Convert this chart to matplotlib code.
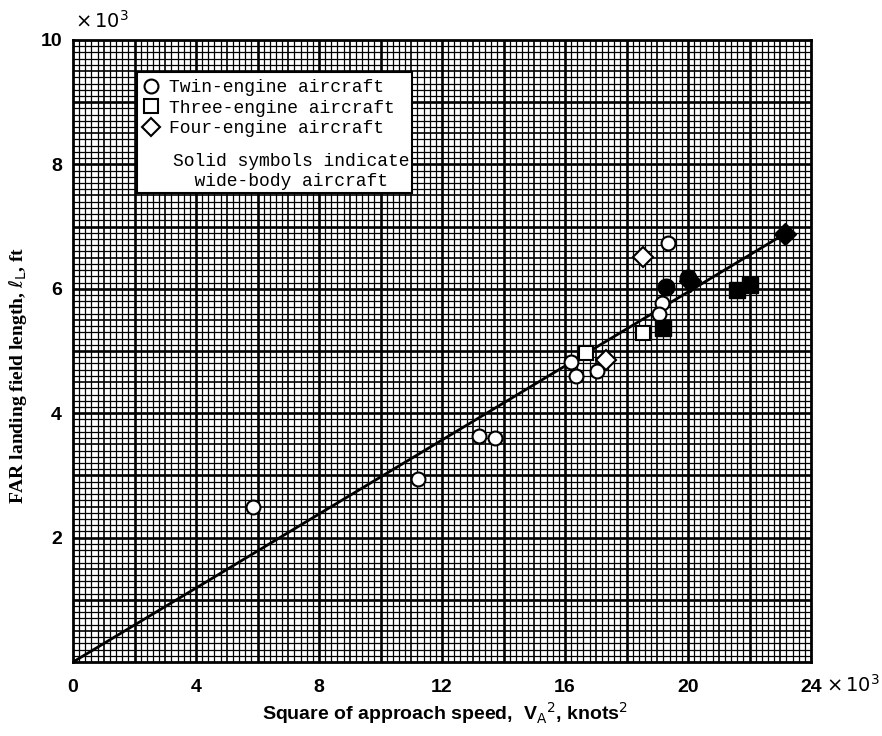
import matplotlib
matplotlib.use("Agg")
import matplotlib.pyplot as plt
from matplotlib.lines import Line2D
from matplotlib.patches import Rectangle
import numpy as np

# data (x in 10^3 knots^2, y in 10^3 ft)
twin_x = [5.85, 11.22, 13.2, 13.72, 16.2, 16.36, 17.04, 19.15, 19.05, 19.35]
twin_y = [2.49, 2.94, 3.63, 3.60, 4.82, 4.60, 4.68, 5.77, 5.60, 6.74]
twin_wide_x = [19.3, 20.0]
twin_wide_y = [6.03, 6.17]

three_x = [16.68, 18.55]
three_y = [4.97, 5.29]
three_wide_x = [19.2, 21.6, 22.0]
three_wide_y = [5.37, 5.98, 6.06]

four_x = [17.33, 18.54]
four_y = [4.86, 6.51]
four_wide_x = [20.05, 23.15]
four_wide_y = [6.12, 6.88]

fit_x = [0.0, 23.1]
fit_y = [0.0, 6.87]

xticks = [0, 4, 8, 12, 16, 20, 24]
yticks = [2, 4, 6, 8, 10]

tickfont = dict(family=["Liberation Sans", "DejaVu Sans"], weight="bold", size=14)
legfont = ["Liberation Mono", "DejaVu Sans Mono"]

fig = plt.figure(figsize=(8.82, 7.36), dpi=100)
ax = fig.add_axes([0.0828, 0.1005, 0.8367, 0.8452])
ax.set_xlim(0, 24)
ax.set_ylim(0, 10)

# graph paper
for v in np.arange(0.2, 24, 0.2):
    lw = 0.9
    if abs(v - round(v)) < 1e-6:
        lw = 1.2 if round(v) % 2 else 1.9
    ax.axvline(v, color="black", lw=lw, zorder=0)
for v in np.arange(0.1, 10, 0.1):
    lw = 0.9
    if abs(v * 2 - round(v * 2)) < 1e-6:
        lw = 1.9 if abs(v - round(v)) < 1e-6 else 1.2
    ax.axhline(v, color="black", lw=lw, zorder=0)

ax.plot(fit_x, fit_y, color="black", lw=2.0, zorder=2)

ms = 10
ax.plot(twin_x, twin_y, "o", ms=ms, mfc="white", mec="black", mew=1.5, zorder=3)
ax.plot(twin_wide_x, twin_wide_y, "o", ms=ms + 2, mfc="black", mec="black", zorder=3)
ax.plot(three_x, three_y, "s", ms=ms, mfc="white", mec="black", mew=1.5, zorder=3)
ax.plot(three_wide_x, three_wide_y, "s", ms=ms + 1, mfc="black", mec="black", zorder=3)
ax.plot(four_x, four_y, "D", ms=ms, mfc="white", mec="black", mew=1.5, zorder=3)
ax.plot(four_wide_x, four_wide_y, "D", ms=ms + 1, mfc="black", mec="black", zorder=3)

for s in ax.spines.values():
    s.set_linewidth(2.0)

ax.set_xticks(xticks)
ax.set_xticklabels([str(t) for t in xticks], fontdict=tickfont)
ax.set_yticks(yticks)
ax.set_yticklabels([str(t) for t in yticks], fontdict=tickfont)
ax.tick_params(length=0, pad=12, axis="x")
ax.tick_params(length=0, pad=8, axis="y")
ax.text(24.5, -0.37, r"$\times\,10^3$", fontsize=14, ha="left", va="center",
        transform=ax.transData, clip_on=False)
ax.text(0.05, 10.3, r"$\times\,10^3$", fontsize=14, ha="left", va="center",
        transform=ax.transData, clip_on=False)

ax.set_xlabel(r"Square of approach speed,  V$_\mathrm{A}$$^2$, knots$^2$",
              fontdict=dict(family=["Liberation Sans", "DejaVu Sans"], weight="bold", size=14))
ax.xaxis.set_label_coords(0.504, -0.061)
ax.set_ylabel(r"FAR landing field length, $\ell_\mathrm{L}$, ft",
              fontdict=dict(family=["Liberation Serif", "DejaVu Serif"], weight="bold", size=14))
ax.yaxis.set_label_coords(-0.06, 0.46)

# legend box with note
ax.add_patch(Rectangle((0.0867, 0.754), 0.372, 0.1946, transform=ax.transAxes,
                       facecolor="white", edgecolor="black", lw=1.5, zorder=5))
handles = [
    Line2D([], [], marker="o", ls="", ms=10, mfc="white", mec="black", mew=1.5),
    Line2D([], [], marker="s", ls="", ms=10, mfc="white", mec="black", mew=1.5),
    Line2D([], [], marker="D", ls="", ms=9, mfc="white", mec="black", mew=1.5),
]
labels = ["Twin-engine aircraft", "Three-engine aircraft", "Four-engine aircraft"]
leg = ax.legend(handles, labels, loc="upper left", bbox_to_anchor=(0.0867, 0.9486),
                borderaxespad=0, frameon=False, handlelength=0.8, handletextpad=0.55,
                labelspacing=0.2, borderpad=0.4, prop=dict(family=legfont, size=13))
leg.set_zorder(6)
ax.text(0.1355, 0.789, "Solid symbols indicate\n  wide-body aircraft", transform=ax.transAxes,
        ha="left", va="center", family=legfont, fontsize=13, linespacing=1.25, zorder=6)

fig.savefig("out.png", dpi=100)
